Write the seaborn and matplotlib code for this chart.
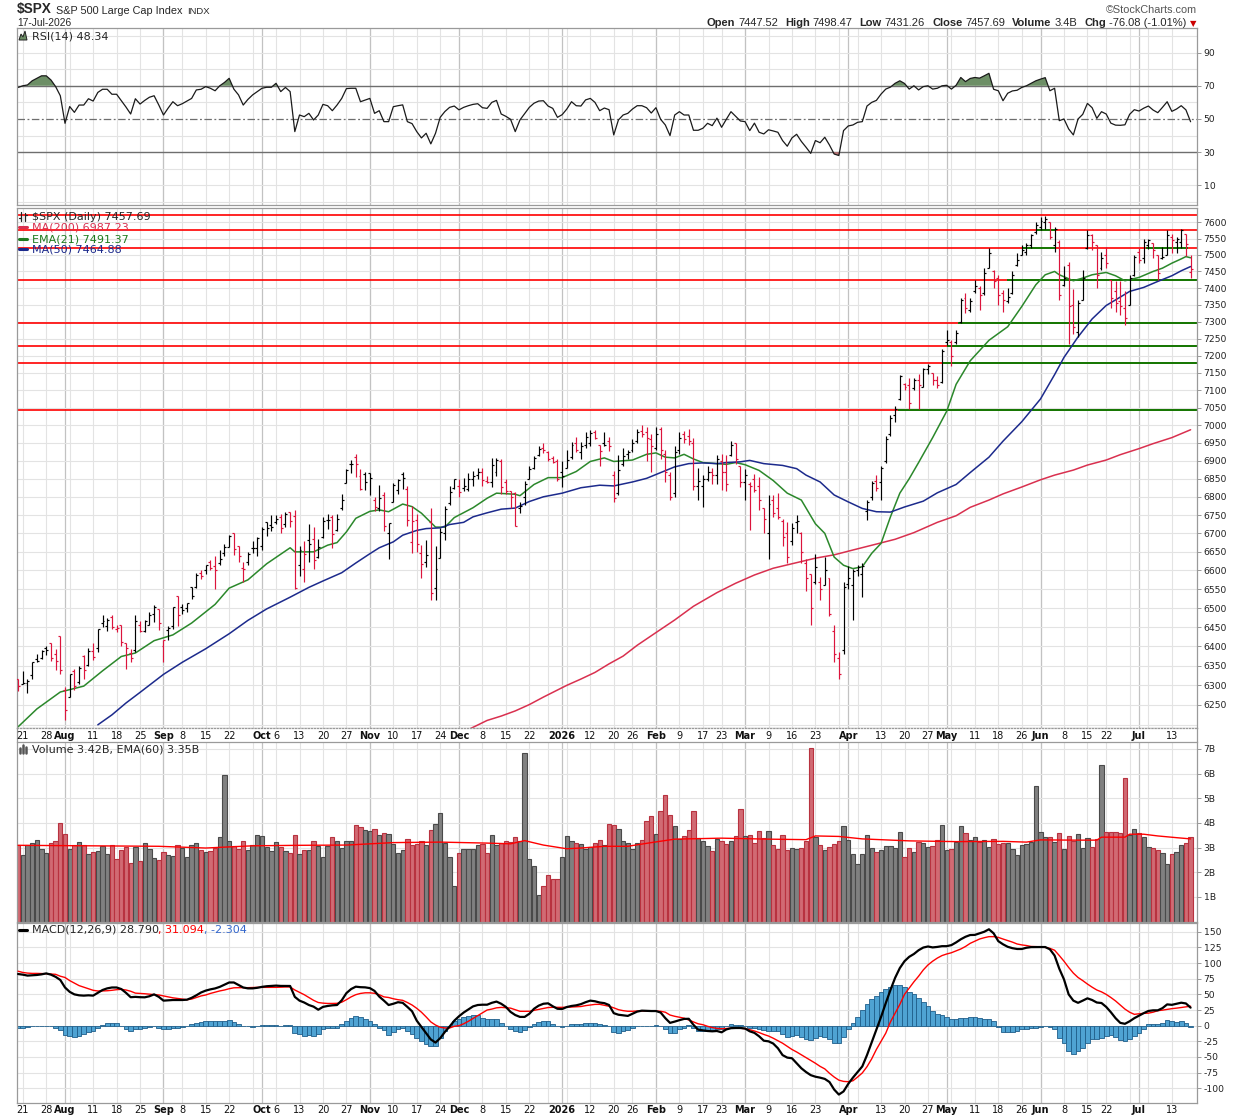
import numpy as np
import pandas as pd
import matplotlib
matplotlib.use("Agg")
import matplotlib.pyplot as plt
import matplotlib.transforms as mtrans
from matplotlib.lines import Line2D
from matplotlib.patches import Polygon
from matplotlib.ticker import FixedLocator, FixedFormatter, NullLocator, NullFormatter
import seaborn as sns

W, H = 1240, 1119

# trading calendar 18-Jul-2025 .. 17-Jul-2026
holidays = pd.to_datetime(["2025-09-01", "2025-11-27", "2025-12-25", "2026-01-01",
                           "2026-01-19", "2026-02-16", "2026-04-03", "2026-05-25",
                           "2026-06-19", "2026-07-03"])
dates = pd.bdate_range("2025-07-18", "2026-07-17")
dates = dates[~dates.isin(holidays)]

# daily bars
opens = [6316, 6304, 6306, 6326, 6368, 6370, 6397, 6409, 6381, 6428,
         6289, 6271, 6337, 6309, 6374, 6353, 6389, 6397, 6460, 6453,
         6478, 6445, 6455, 6409, 6384, 6392, 6457, 6440, 6457, 6485,
         6497, 6401, 6443, 6454, 6532, 6503, 6500, 6555, 6556, 6594,
         6601, 6624, 6611, 6621, 6646, 6663, 6700, 6666, 6606, 6624,
         6661, 6660, 6665, 6731, 6722, 6730, 6745, 6725, 6759, 6746,
         6615, 6604, 6681, 6686, 6637, 6689, 6737, 6745, 6710, 6769,
         6839, 6891, 6910, 6857, 6864, 6866, 6790, 6768, 6804, 6700,
         6785, 6818, 6864, 6822, 6676, 6736, 6647, 6623, 6731, 6553,
         6633, 6700, 6783, 6823, 6830, 6825, 6822, 6850, 6860, 6870,
         6845, 6842, 6870, 6900, 6840, 6815, 6810, 6770, 6800, 6850,
         6880, 6915, 6935, 6925, 6908, 6900, 6870, 6880, 6910, 6950,
         6925, 6945, 6950, 6980, 6945, 6950, 6955, 6860, 6810, 6890,
         6918, 6930, 6955, 6985, 6980, 6960, 6935, 6990, 6920, 6860,
         6810, 6930, 6975, 6970, 6950, 6830, 6830, 6850, 6870, 6860,
         6900, 6870, 6915, 6950, 6885, 6840, 6835, 6850, 6830, 6770,
         6700, 6790, 6770, 6735, 6700, 6680, 6730, 6700, 6620, 6590,
         6570, 6570, 6560, 6580, 6440, 6370, 6390, 6565, 6560, 6600,
         6590, 6760, 6800, 6845, 6840, 6900, 6975, 7030, 7075, 7118,
         7115, 7105, 7130, 7110, 7160, 7150, 7130, 7125, 7240, 7240,
         7240, 7300, 7370, 7335, 7390, 7400, 7385, 7460, 7450, 7430,
         7385, 7360, 7385, 7470, 7500, 7510, 7530, 7570, 7585, 7600,
         7600, 7530, 7540, 7410, 7470, 7350, 7270, 7365, 7520, 7560,
         7530, 7460, 7500, 7425, 7390, 7360, 7340, 7350, 7440, 7510,
         7490, 7530, 7535, 7500, 7490, 7500, 7555, 7540, 7540, 7565,
         7447.52]
highs = [6316, 6336, 6316, 6360, 6381, 6390, 6402, 6410, 6394, 6428,
         6295, 6330, 6343, 6349, 6379, 6395, 6409, 6446, 6481, 6474,
         6482, 6457, 6457, 6410, 6394, 6481, 6466, 6468, 6489, 6508,
         6497, 6416, 6453, 6502, 6533, 6512, 6513, 6556, 6593, 6601,
         6616, 6627, 6639, 6656, 6672, 6695, 6700, 6666, 6624, 6650,
         6679, 6689, 6718, 6731, 6751, 6749, 6752, 6757, 6759, 6764,
         6666, 6679, 6726, 6718, 6686, 6744, 6752, 6749, 6752, 6807,
         6876, 6901, 6920, 6876, 6870, 6866, 6799, 6833, 6812, 6729,
         6838, 6849, 6869, 6829, 6775, 6754, 6668, 6683, 6770, 6665,
         6715, 6776, 6829, 6850, 6850, 6853, 6867, 6872, 6881, 6881,
         6858, 6908, 6908, 6904, 6850, 6817, 6812, 6787, 6844, 6885,
         6913, 6940, 6950, 6927, 6913, 6904, 6899, 6931, 6954, 6968,
         6954, 6982, 6986, 6986, 6945, 6982, 6968, 6872, 6917, 6935,
         6930, 6960, 6988, 7000, 6995, 6975, 6995, 6995, 6930, 6870,
         6940, 6980, 6985, 6990, 6965, 6880, 6860, 6885, 6880, 6915,
         6920, 6915, 6955, 6950, 6885, 6878, 6840, 6862, 6855, 6770,
         6805, 6805, 6810, 6740, 6730, 6727, 6750, 6705, 6630, 6590,
         6645, 6583, 6635, 6580, 6455, 6385, 6570, 6612, 6605, 6615,
         6620, 6791, 6845, 6860, 6885, 6970, 7030, 7055, 7144, 7122,
         7136, 7136, 7146, 7165, 7175, 7150, 7140, 7220, 7275, 7246,
         7275, 7370, 7385, 7370, 7425, 7405, 7460, 7520, 7455, 7440,
         7395, 7400, 7450, 7505, 7530, 7535, 7565, 7600, 7615, 7620,
         7600, 7585, 7545, 7465, 7480, 7398, 7365, 7455, 7575, 7565,
         7530, 7510, 7525, 7425, 7420, 7420, 7390, 7440, 7500, 7522,
         7550, 7550, 7537, 7500, 7525, 7575, 7565, 7555, 7580, 7565,
         7498.47]
lows = [6285, 6303, 6281, 6317, 6360, 6368, 6378, 6362, 6338, 6328,
        6213, 6271, 6289, 6303, 6317, 6350, 6364, 6385, 6450, 6441,
        6446, 6437, 6400, 6343, 6360, 6386, 6438, 6438, 6457, 6465,
        6444, 6360, 6417, 6446, 6453, 6484, 6490, 6524, 6553, 6577,
        6591, 6601, 6551, 6616, 6640, 6662, 6642, 6624, 6570, 6614,
        6646, 6638, 6656, 6693, 6707, 6725, 6700, 6718, 6718, 6550,
        6586, 6569, 6622, 6604, 6634, 6688, 6713, 6660, 6706, 6765,
        6839, 6866, 6854, 6818, 6818, 6804, 6762, 6761, 6707, 6631,
        6785, 6809, 6822, 6719, 6646, 6650, 6580, 6608, 6522, 6521,
        6633, 6681, 6778, 6822, 6800, 6815, 6817, 6830, 6849, 6830,
        6838, 6826, 6858, 6807, 6807, 6769, 6720, 6755, 6778, 6850,
        6878, 6912, 6922, 6899, 6893, 6845, 6826, 6880, 6905, 6925,
        6904, 6936, 6940, 6960, 6885, 6940, 6927, 6787, 6805, 6885,
        6905, 6925, 6950, 6968, 6900, 6870, 6930, 6905, 6840, 6790,
        6800, 6920, 6950, 6945, 6820, 6790, 6773, 6845, 6835, 6835,
        6820, 6815, 6912, 6890, 6827, 6791, 6710, 6812, 6765, 6700,
        6632, 6745, 6740, 6665, 6620, 6668, 6700, 6619, 6545, 6455,
        6565, 6521, 6560, 6480, 6360, 6315, 6380, 6550, 6470, 6585,
        6530, 6736, 6790, 6815, 6790, 6895, 6970, 7010, 7072, 7100,
        7045, 7102, 7045, 7110, 7146, 7116, 7106, 7120, 7230, 7170,
        7235, 7295, 7325, 7330, 7385, 7335, 7380, 7460, 7400, 7350,
        7330, 7355, 7382, 7465, 7500, 7500, 7520, 7565, 7575, 7580,
        7548, 7510, 7365, 7405, 7235, 7265, 7255, 7365, 7518, 7515,
        7400, 7455, 7460, 7340, 7330, 7320, 7290, 7350, 7437, 7477,
        7477, 7517, 7490, 7425, 7487, 7500, 7505, 7505, 7520, 7498,
        7431.26]
closes = [6297, 6306, 6310, 6359, 6363, 6389, 6390, 6371, 6363, 6339,
          6238, 6330, 6299, 6345, 6340, 6389, 6373, 6446, 6467, 6469,
          6450, 6449, 6411, 6396, 6370, 6467, 6439, 6466, 6481, 6502,
          6460, 6416, 6448, 6502, 6482, 6495, 6513, 6532, 6587, 6584,
          6615, 6607, 6600, 6632, 6664, 6694, 6657, 6638, 6605, 6644,
          6661, 6688, 6711, 6715, 6716, 6740, 6715, 6754, 6735, 6553,
          6655, 6644, 6671, 6629, 6664, 6735, 6735.5, 6699, 6738, 6792,
          6875, 6891, 6890.5, 6822, 6840, 6852, 6772, 6796, 6720, 6729,
          6832, 6847, 6851, 6737, 6734, 6672, 6617, 6642, 6539, 6603,
          6705, 6766, 6813, 6849, 6812, 6829, 6850, 6857, 6870, 6846,
          6840, 6887, 6901, 6827, 6816, 6800, 6721, 6775, 6834, 6878,
          6909, 6932, 6930, 6906, 6896, 6850, 6858, 6902, 6945, 6930,
          6940, 6966, 6977, 6963, 6926, 6944, 6940, 6796, 6875, 6913,
          6925, 6950, 6980, 6975, 6965, 6940, 6975, 6930, 6870, 6800,
          6925, 6965, 6960, 6955, 6830, 6845, 6848, 6870, 6860, 6905,
          6870, 6835, 6945, 6905, 6840, 6860, 6830, 6820, 6790, 6740,
          6780, 6755, 6745, 6690, 6635, 6715, 6735, 6650, 6580, 6500,
          6610, 6550, 6600, 6485, 6380, 6330, 6555, 6580, 6598, 6610,
          6612, 6785, 6838, 6825, 6880, 6960, 7020, 7045, 7140, 7108,
          7062, 7130, 7115, 7160, 7170, 7130, 7115, 7215, 7245, 7200,
          7268, 7365, 7340, 7362, 7405, 7380, 7445, 7505, 7420, 7380,
          7365, 7372, 7440, 7485, 7515, 7530, 7560, 7590, 7605, 7610,
          7555, 7578, 7380, 7430, 7345, 7285, 7355, 7430, 7560, 7540,
          7440, 7490, 7475, 7370, 7355, 7345, 7310, 7430, 7495, 7485,
          7540, 7545, 7515, 7445, 7495, 7560, 7545, 7550, 7575, 7533.77,
          7457.69]
prev_close_start = 6297.4

volumes = [3.09, 2.68, 3.12, 3.2, 3.32, 2.95, 2.79, 3.2, 3.28, 4.01,
           3.56, 2.95, 3.12, 3.24, 3.12, 2.75, 2.82, 2.87, 3.05, 2.75,
           3.12, 2.55, 2.89, 3.01, 2.38, 3.01, 2.47, 3.2, 2.93, 2.59,
           2.51, 2.83, 2.71, 2.67, 3.12, 2.98, 2.63, 3.12, 3.2, 2.89,
           2.82, 2.85, 2.98, 3.43, 5.93, 3.28, 3.06, 2.95, 3.28, 2.89,
           3.12, 3.5, 3.46, 3.01, 2.87, 3.22, 3.01, 2.87, 2.76, 3.5,
           2.72, 2.91, 2.91, 3.28, 3.05, 2.63, 3.05, 3.41, 3.28, 3.0,
           3.25, 3.28, 3.93, 3.83, 3.73, 3.66, 3.77, 3.52, 3.6, 3.54,
           3.14, 2.79, 2.91, 3.36, 3.09, 3.14, 3.25, 3.09, 3.7, 3.97,
           4.42, 3.2, 2.63, 1.44, 2.79, 2.95, 2.95, 2.95, 3.12, 3.14,
           2.76, 3.5, 3.12, 3.2, 3.28, 3.22, 3.41, 3.28, 6.82, 2.55,
           2.24, 1.06, 1.46, 1.9, 1.71, 1.71, 2.63, 3.46, 3.28, 3.2,
           3.16, 2.93, 3.01, 3.2, 3.32, 3.12, 3.97, 3.9, 3.77, 3.28,
           3.2, 2.95, 3.2, 3.32, 4.09, 4.27, 3.56, 4.5, 5.12, 4.31,
           3.86, 3.35, 3.46, 3.73, 4.5, 3.39, 3.28, 3.05, 2.87, 3.33,
           3.25, 3.16, 3.28, 3.46, 4.58, 3.46, 3.5, 3.2, 3.69, 3.39,
           3.69, 3.12, 2.95, 3.5, 2.91, 3.0, 2.93, 3.0, 3.25, 7.02,
           3.43, 3.09, 2.91, 3.03, 3.16, 3.27, 3.88, 3.3, 2.74, 2.34,
           2.74, 3.51, 2.97, 2.8, 2.89, 3.07, 3.07, 2.97, 3.62, 2.62,
           2.97, 2.81, 3.24, 3.18, 3.01, 3.05, 3.3, 3.92, 2.89, 2.93,
           3.22, 3.88, 3.58, 3.3, 3.42, 3.24, 3.3, 3.01, 3.34, 3.16,
           3.18, 3.18, 2.93, 2.7, 3.1, 3.16, 3.22, 5.5, 3.65, 3.43,
           3.43, 3.22, 3.58, 2.93, 3.47, 3.27, 3.55, 2.97, 3.38, 3.01,
           3.34, 6.35, 3.65, 3.62, 3.62, 3.58, 5.81, 3.51, 3.74, 3.58,
           3.42, 3.01, 2.97, 2.89, 2.77, 2.32, 2.74, 2.81, 3.1, 3.18,
           3.42]

rsi = [69, 70, 70.5, 73, 74.5, 76, 76, 73.5, 69.5, 64,
       47.4, 57.5, 54, 58.4, 58.4, 62.2, 60.8, 66, 67.9, 67.9,
       64.9, 64.9, 61, 57.2, 53, 62.2, 59, 61.2, 63.1, 64,
       58.4, 52.4, 56.6, 60.4, 58, 59.2, 60.8, 62.4, 67.5, 67.9,
       69.5, 68.5, 67, 70, 72, 74.5, 68, 64.5, 58.4, 61.8,
       64.5, 66.5, 68.5, 69.1, 69.1, 71.5, 66.5, 69, 66.5, 42.4,
       52.4, 51.4, 53.4, 49.4, 52.4, 58.8, 58, 55, 58.4, 62.4,
       68.3, 68.5, 68.5, 60.4, 61.4, 62.4, 53.4, 55, 48.4, 48.4,
       57.4, 58, 58.5, 48.4, 47.2, 42.4, 38.6, 41.4, 35, 41.4,
       51, 54.5, 57, 57.8, 55.5, 57, 58, 58.8, 59.2, 56.8,
       56.4, 60, 61.2, 53, 51.6, 49.8, 42.4, 49.4, 53.2, 57,
       59.5, 60.8, 61, 57.8, 56.4, 51, 52.6, 56, 60.4, 58,
       57.8, 61.5, 62.4, 60, 55, 56.6, 55.6, 40.4, 49.4, 52.4,
       53.4, 56, 58, 58, 56.8, 53.6, 56.8, 49.8, 46.4, 40,
       52.4, 54.4, 52.4, 52.4, 43.2, 43.2, 44.4, 47.4, 46, 50.5,
       45, 49.8, 54.4, 51.6, 48.8, 48.4, 43, 47.5, 42, 41,
       43.5, 42.8, 42, 37, 33.6, 38.6, 40.8, 36.5, 33, 29.3,
       37, 35.7, 39, 34.3, 28.9, 28, 43, 45.8, 46.4, 48,
       48.4, 57.8, 60, 61.2, 65, 68, 69.2, 71.5, 73, 71.4,
       68, 70, 67.5, 69.5, 70, 68, 68.5, 70, 70.3, 68,
       70.3, 75, 72.5, 74.4, 75, 74.6, 76, 77.5, 67.9, 67,
       61, 65.5, 66.9, 67.3, 69, 70, 71.5, 73, 74, 74.9,
       67, 68.5, 49, 50, 44, 40.4, 50, 52.8, 59.4, 56.8,
       50.4, 54.4, 53, 47.5, 46.3, 46.2, 46.5, 52.8, 55.6, 54.8,
       56.5, 57.8, 55.4, 53.8, 57, 60.4, 54.6, 56, 58, 55.5,
       48.34]

macd = [82.5, 81.5, 80, 80.5, 81, 82, 83.5, 81.5, 78, 73,
        61, 54, 50, 48.5, 48, 48.5, 48, 52.5, 57, 59.6,
        61, 61, 58.5, 52.5, 45.5, 46, 45.5, 45.3, 47, 50,
        46, 40, 40.5, 41, 41, 41, 41.5, 44.5, 48.5, 53,
        56, 58, 59.5, 62, 65.5, 69, 69, 65, 61, 59.6,
        59.6, 60.5, 62, 63, 63.5, 64, 63.5, 63.4, 63.4, 46,
        40, 37, 33, 30.4, 25.5, 30, 31.5, 32.5, 33, 40.5,
        52, 58.5, 62.3, 61.5, 61.2, 60, 55.5, 46.5, 40, 33,
        35, 37.5, 36.5, 30, 23, 8, -2, -12, -22, -27,
        -20, -10, -1.5, 8, 15, 21, 26, 30.8, 33, 33.5,
        33.5, 36.5, 38.5, 35, 30, 22, 17, 14, 14, 19,
        27, 32, 35, 35.7, 31, 27, 26.6, 29.8, 31.5, 32.5,
        34.4, 37.5, 40, 39, 37, 36, 33, 20, 17.5, 16.5,
        15.6, 19, 22.5, 24, 23.7, 23.4, 23.4, 21, 12, 4.5,
        6.5, 8.8, 10.8, 11, 1.3, -6.4, -7.5, -8.5, -9, -8.5,
        -10.6, -6, -4, -3.7, -3.7, -4.5, -9, -11.5, -17, -24,
        -25, -28.5, -36, -47, -51, -52, -60, -68, -74, -79,
        -81.5, -83, -85, -90, -102, -110, -105, -93, -83, -74,
        -65, -47, -26.6, -6.5, 14, 36, 57, 76.5, 92, 103,
        110, 114.5, 120.5, 124.8, 126.5, 125, 125.8, 127, 127, 128.7,
        133, 138, 142, 144.8, 145, 147.5, 150, 154, 147.5, 135,
        130, 126, 123.8, 122.5, 122.5, 124.5, 125.5, 125.6, 125.6, 125.6,
        122, 112, 91, 74, 50, 40, 36.5, 40, 43.7, 41,
        37, 36.2, 30, 21.5, 12, 4.5, 3, 7, 12, 16,
        20, 23.5, 24.5, 24.5, 28, 34, 33.3, 35, 36.7, 35.5,
        28.79]
signal = [87, 85, 84, 83.5, 83.5, 83.3, 83, 82.5, 82, 79,
          77, 72, 68, 64, 61.5, 59, 56.5, 55.4, 55.5, 55.8,
          56.5, 57.5, 58, 57, 55, 52, 51.5, 51, 50.3, 49.5,
          49, 47.5, 46, 44.5, 43.5, 42.5, 41.5, 42.5, 45, 47.5,
          49, 51.5, 53.5, 55.5, 57, 59, 60.5, 60.7, 60.7, 60.7,
          61, 61.2, 61.2, 61.2, 61.2, 61.2, 61.5, 61.8, 61.8, 57,
          53.2, 49.5, 45, 40.5, 37, 36, 35.5, 35.5, 35.7, 37.5,
          41.5, 46, 49.5, 51.5, 52.5, 52.5, 51.7, 49.5, 46, 45,
          43, 41.5, 40.5, 37, 33, 27.7, 21.5, 14, 6, 1,
          -2.5, -3.7, -3.7, -1, 0, 3, 7, 11.5, 16, 20.5,
          25, 26.5, 28.5, 29.2, 28.7, 28, 25.5, 23, 22.9, 23,
          24.5, 26, 27.5, 29, 29.3, 29.3, 29.3, 29.5, 29.8, 30.2,
          30.6, 32, 33, 34, 34.1, 32.5, 31, 28.5, 25.6, 24,
          23, 23, 23.4, 23.5, 23.5, 23.4, 23.4, 23, 21.5, 17,
          15, 13.5, 12, 9, 6, 3, 1.6, -1, -3, -4.3,
          -4.8, -4.5, -4, -3.8, -4, -5, -6.4, -8.5, -11, -14,
          -16.5, -20, -24, -28, -33, -38, -42, -46.5, -51, -55.5,
          -60, -65, -69, -76, -82, -87, -89, -89.5, -88, -82,
          -75.5, -65.5, -53, -38, -25, -12, 6, 20, 34, 50,
          60, 70, 79, 89, 97, 103, 108, 112, 114.5, 116.5,
          119.5, 122.5, 126.5, 131.5, 135, 138.4, 140.5, 142.2, 142.2, 141,
          138.4, 136, 133.5, 130.5, 129, 128, 126.5, 126.2, 126, 125,
          123.5, 120.5, 112, 103, 93, 84, 77, 72, 66.5, 61.5,
          57, 54, 50, 45, 39.5, 33, 26.5, 21.5, 18.1, 19,
          19.7, 20, 21.5, 24, 24.8, 26, 27.2, 28, 29, 30,
          31.094]
hist = [-3, -3, -2, -1, -1, 0, 0, -1, -3, -7,
        -15, -17, -18, -16, -14, -10, -8, -3, 1, 4,
        4, 3.5, -1, -5, -8, -6, -5, -4, -2, -1,
        -3, -6, -5, -4, -3, -2, -1, 2, 4, 6,
        8, 8, 7, 7.5, 8, 9, 6, 3, -1, -1,
        -1.5, -0.5, 0.5, 1, 1, 1, 0, 1, 1, -11,
        -14, -16, -15.5, -16, -14, -6, -4, -3.5, -3, 2,
        8, 13, 16, 14, 10, 8, 2, -3, -7, -15,
        -10, -5, -3, -8, -14, -20, -24, -30, -33, -32,
        -20, -8, 0, 8, 11, 14, 16, 17, 17, 13,
        11, 11, 10, 5, -1, -5, -9, -10, -7, -2,
        3, 6, 8, 7, 3, -1, -2, 0, 2, 2,
        3, 4, 5, 4.5, 2, 1, 0, -10, -11, -9,
        -7, -4, -1, 0, 0, 0, 1, -1, -5, -12,
        -11, -5, -3, 1, -4, -8, -9, -8, -7, -5,
        -6, 0, 2, 1.5, 1, -1, -4, -4, -6, -7,
        -8, -9, -9, -13, -18, -16, -15, -18, -21, -23,
        -20, -16, -18, -22, -27, -28, -18, -5, 4, 14,
        25, 35, 42, 47, 53, 59, 62, 65, 65, 62,
        54, 50, 44, 38, 32, 24, 18, 16.5, 14, 10,
        10, 12, 12, 13.5, 14, 12, 11, 11, 8, -2,
        -9.5, -9.5, -9.5, -8, -6, -5, -4, -3, -2, -1,
        -2, -5, -20, -27, -40, -45, -40, -35, -27, -21,
        -21, -20, -17, -15, -18, -23, -25, -22, -17, -11,
        -5, 2, 3, 3, 4, 9, 7, 6.5, 7, 4,
        -2.304]

# overlay lines, sampled off the chart (bar index, value)
ma200_j = [96, 100, 103, 106, 109, 112, 115, 117, 120, 123, 126, 129, 132, 136, 140,
           144, 149, 153, 157, 161, 166, 170, 174, 178, 183, 187, 191, 196, 200, 203,
           207, 210, 214, 218, 221, 225, 228, 232, 235, 239, 242, 246, 250]
ma200_v = [6188, 6211, 6222, 6235, 6251, 6270, 6288, 6300, 6316, 6333, 6355, 6375, 6403, 6436, 6469,
           6505, 6541, 6566, 6588, 6606, 6621, 6633, 6642, 6655, 6671, 6684, 6702, 6730, 6748, 6771,
           6791, 6808, 6827, 6847, 6860, 6874, 6888, 6902, 6917, 6934, 6948, 6965, 6987.23]
ema21_j = [0, 4, 9, 14, 18, 22, 25, 29, 33, 37, 42, 45, 49, 53, 58, 59, 63, 66, 68, 70,
           72, 75, 77, 79, 82, 84, 86, 89, 91, 93, 97, 100, 102, 106, 107, 110, 113, 116, 119, 122,
           125, 127, 129, 131, 134, 136, 138, 140, 142, 144, 146, 149, 151, 153, 155, 158, 161, 164, 167, 170,
           172, 174, 176, 178, 180, 182, 184, 186, 188, 190, 192, 195, 198, 200, 203, 207, 209, 211, 214, 217,
           219, 221, 222, 225, 227, 229, 232, 234, 236, 239, 242, 244, 246, 248, 249, 250]
ema21_v = [6195, 6240, 6283, 6298, 6337, 6374, 6383, 6415, 6430, 6461, 6510, 6553, 6575, 6618, 6661, 6650, 6650, 6668, 6675, 6704,
           6741, 6760, 6764, 6759, 6780, 6773, 6755, 6717, 6717, 6743, 6770, 6796, 6810, 6807, 6803, 6834, 6853, 6853, 6870, 6898,
           6908, 6898, 6900, 6902, 6918, 6922, 6910, 6908, 6918, 6905, 6895, 6892, 6890, 6895, 6889, 6873, 6845, 6810, 6791, 6726,
           6700, 6636, 6614, 6605, 6610, 6646, 6673, 6745, 6810, 6850, 6895, 6965, 7040, 7117, 7185, 7245, 7265, 7285, 7345, 7410,
           7440, 7450, 7440, 7422, 7430, 7440, 7447, 7437, 7422, 7432, 7450, 7460, 7475, 7488, 7495, 7491.37]
ma50_j = [17, 20, 23, 26, 31, 35, 40, 45, 49, 53, 58, 62, 65, 69, 72, 75, 77, 80, 82, 85,
          87, 90, 92, 95, 97, 100, 103, 106, 109, 112, 116, 120, 124, 127, 131, 134, 137, 140, 143, 146,
          149, 151, 154, 156, 159, 163, 166, 168, 171, 174, 177, 180, 183, 186, 189, 193, 196, 200, 203, 207,
          210, 214, 218, 221, 223, 226, 229, 232, 235, 237, 240, 243, 246, 248, 250]
ma50_v = [6200, 6225, 6255, 6282, 6328, 6359, 6394, 6433, 6468, 6498, 6529, 6555, 6572, 6594, 6620, 6645, 6661, 6677, 6695, 6708,
          6713, 6715, 6724, 6730, 6745, 6756, 6766, 6769, 6787, 6800, 6810, 6825, 6832, 6830, 6841, 6851, 6867, 6883, 6892, 6894,
          6892, 6895, 6897, 6901, 6892, 6887, 6878, 6860, 6841, 6805, 6786, 6768, 6759, 6758, 6772, 6788, 6811, 6834, 6867, 6910,
          6955, 7010, 7075, 7145, 7195, 7255, 7308, 7348, 7373, 7390, 7402, 7420, 7437, 7452, 7464.88]
vol_ema_j = [0, 30, 40, 50, 60, 70, 80, 90, 100, 105, 108, 112, 117, 120, 125, 130, 135, 140, 150, 160,
             168, 170, 175, 180, 190, 200, 210, 215, 218, 225, 230, 231, 236, 237, 240, 243, 247, 250]
vol_ema_v = [3.09, 3.05, 2.98, 3.07, 3.09, 3.1, 3.2, 3.22, 3.18, 3.15, 3.28, 3.1, 2.95, 2.98, 3.05, 3.05, 3.2, 3.34, 3.38, 3.34,
             3.32, 3.47, 3.45, 3.35, 3.27, 3.24, 3.25, 3.22, 3.31, 3.3, 3.3, 3.42, 3.42, 3.54, 3.54, 3.47, 3.4, 3.35]

# horizontal levels drawn on the price panel
red_levels = [7622, 7576, 7522, 7424, 7295, 7228, 7178, 7043]
green_segments = [(7043, 187.6, 251.3), (7178, 197.0, 251.3), (7228, 198.0, 251.3),
                  (7295, 200.4, 251.3), (7424, 210.8, 251.3), (7522, 214.0, 221.4),
                  (7522, 240.5, 249.5), (7576, 217.2, 221.4)]

n = len(dates)
for arr in (opens, highs, lows, closes, volumes, rsi, macd, signal, hist):
    assert len(arr) == n
x = np.arange(n)
c = np.array(closes)
prev = np.concatenate([[prev_close_start], c[:-1]])
down = c < prev

UP, DOWN = "#000000", "#DC143C"
GRID, GRID_M = "#e3e3e3", "#c2c2c2"
SPINE = "#9a9a9a"
XL = (-0.3, 251.3)

sns.set_style("white")
plt.rcParams["font.family"] = ["DejaVu Sans"]
fig = plt.figure(figsize=(W / 100, H / 100), dpi=100)
fig.patch.set_facecolor("white")


def fx(px):
    return px / W


def fy(py):
    return 1 - py / H


def box(top, bottom):
    return [fx(16.7), fy(bottom), 1180 / W, (bottom - top) / H]


week_idx = [j for j in range(1, n) if dates[j].isocalendar()[1] != dates[j - 1].isocalendar()[1]]
month_idx = [j for j in range(1, n) if dates[j].month != dates[j - 1].month]


def vgrid(ax):
    for j in week_idx:
        ax.axvline(j, color=GRID, lw=0.8, zorder=0)
    for j in month_idx:
        ax.axvline(j, color=GRID_M, lw=0.9, zorder=0)


def style(ax, ticks, labels):
    for s in ax.spines.values():
        s.set_color(SPINE)
        s.set_linewidth(0.9)
    ax.set_xticks([])
    ax.yaxis.tick_right()
    ax.yaxis.set_major_locator(FixedLocator(ticks))
    ax.yaxis.set_major_formatter(FixedFormatter(labels))
    ax.yaxis.set_minor_locator(NullLocator())
    ax.yaxis.set_minor_formatter(NullFormatter())
    ax.tick_params(axis="y", which="major", direction="out", length=3, width=0.7,
                   color="#999999", labelcolor="#222222", labelsize=6.7, pad=2)
    ax.set_xlim(*XL)


def put_runs(xp, yp, parts, ha="left"):
    rend = fig.canvas.get_renderer()
    made = []
    for s, kw, gap in parts:
        t = fig.text(0, fy(yp), s, va="baseline", ha="left", parse_math=False, **kw)
        made.append((t, t.get_window_extent(rend).width, gap))
    total = sum(w + g for _, w, g in made) - made[-1][2]
    cx = xp - total if ha == "right" else xp
    for t, w, g in made:
        t.set_x(fx(cx))
        cx += w + g


# ---------------- RSI ----------------
ax_r = fig.add_axes(box(28, 205))
vgrid(ax_r)
for v in range(0, 101, 10):
    if v not in (30, 50, 70):
        ax_r.axhline(v, color=GRID, lw=0.8, zorder=0)
ax_r.axhline(70, color="#6e6e6e", lw=1.0, zorder=1)
ax_r.axhline(30, color="#6e6e6e", lw=1.0, zorder=1)
ax_r.axhline(50, color="#6e6e6e", lw=0.9, dashes=(6, 2, 1.5, 2), zorder=1)
r = np.array(rsi)
ax_r.fill_between(x, r, 70, where=r >= 70, interpolate=True, color="#6d8f66", lw=0, zorder=1.5)
ax_r.fill_between(x, r, 30, where=r <= 30, interpolate=True, color="#b87474", lw=0, zorder=1.5)
sns.lineplot(x=x, y=r, ax=ax_r, color="#1a1a1a", lw=0.9, zorder=2, legend=False)
ax_r.set_ylim(-1.8, 104.8)
style(ax_r, [10, 30, 50, 70, 90], ["10", "30", "50", "70", "90"])
ax_r.set_ylabel("")

# ---------------- price ----------------
ax_p = fig.add_axes(box(208, 728))
ax_p.set_yscale("log")
vgrid(ax_p)
for v in range(6200, 7651, 50):
    ax_p.axhline(v, color=GRID, lw=0.8, zorder=0)
for lv in red_levels:
    ax_p.axhline(lv, color="#ff0000", lw=1.2, zorder=1.2)
for lv, j0, j1 in green_segments:
    ax_p.hlines(lv, j0, j1, color="#008000", lw=1.3, zorder=1.3)
sns.lineplot(x=ma200_j, y=ma200_v, ax=ax_p, color="#d9304f", lw=1.1, zorder=2, legend=False)
sns.lineplot(x=ema21_j, y=ema21_v, ax=ax_p, color="#2b882b", lw=1.1, zorder=2, legend=False)
sns.lineplot(x=ma50_j, y=ma50_v, ax=ax_p, color="#1c2a8c", lw=1.1, zorder=2, legend=False)
cols = np.where(down, DOWN, UP)
ax_p.vlines(x, lows, highs, colors=cols, lw=0.85, zorder=3)
ax_p.hlines(opens, x - 0.42, x, colors=cols, lw=0.85, zorder=3)
ax_p.hlines(closes, x, x + 0.42, colors=cols, lw=0.85, zorder=3)
ax_p.set_ylim(6192, 7644)
pt = list(range(6250, 7601, 50))
style(ax_p, pt, [str(v) for v in pt])
ax_p.set_ylabel("")

# date strip under the price panel
ax_s = fig.add_axes(box(728, 741))
ax_s.set_xlim(*XL)
ax_s.set_ylim(0, 1)
ax_s.set_xticks([])
ax_s.set_yticks([])
for k, s in ax_s.spines.items():
    s.set_color(SPINE)
    s.set_linewidth(0.9)
ax_s.spines["bottom"].set_visible(False)
ax_s.spines["top"].set_linestyle((0, (1, 1.5)))

# ---------------- volume ----------------
ax_v = fig.add_axes(box(742, 921.5))
vgrid(ax_v)
for v in range(1, 8):
    ax_v.axhline(v, color=GRID, lw=0.8, zorder=0)
vfill = np.where(down, "#d16a73", "#808080")
vedge = np.where(down, "#b8323f", "#4a4a4a")
ax_v.bar(x, volumes, width=0.92, color=vfill, edgecolor=vedge, linewidth=0.8, zorder=2)
sns.lineplot(x=vol_ema_j, y=vol_ema_v, ax=ax_v, color="#ff0000", lw=1.0, zorder=3, legend=False)
ax_v.set_ylim(0, 7.28)
style(ax_v, list(range(1, 8)), [f"{v}B" for v in range(1, 8)])
ax_v.set_ylabel("")

# ---------------- MACD ----------------
ax_m = fig.add_axes(box(923, 1103))
vgrid(ax_m)
for v in range(-125, 176, 25):
    ax_m.axhline(v, color=GRID, lw=0.8, zorder=0)
ax_m.bar(x, hist, width=1.0, color="#4fa3d3", edgecolor="#1f5e8a", linewidth=0.6, zorder=2)
sns.lineplot(x=x, y=signal, ax=ax_m, color="#ff0000", lw=1.0, zorder=3, legend=False)
sns.lineplot(x=x, y=macd, ax=ax_m, color="#000000", lw=1.6, zorder=4, legend=False)
ax_m.set_ylim(-123.5, 164)
mt = list(range(-100, 151, 25))
style(ax_m, mt, [str(v) for v in mt])
ax_m.set_ylabel("")

# ---------------- date labels ----------------
labels = []
for j in month_idx:
    labels.append((j, "2026" if dates[j].month == 1 else dates[j].strftime("%b"), True))
for j in week_idx:
    if j in month_idx:
        continue
    near = [m for m in month_idx
            if abs(m - j) <= 2 or (dates[m].month == 1 and abs(m - j) <= 3)]
    if near:
        continue
    labels.append((j, str(dates[j].day), False))

tr_s = mtrans.blended_transform_factory(ax_s.transData, ax_s.transAxes)
tr_b = mtrans.blended_transform_factory(ax_m.transData, fig.transFigure)
for j, lab, bold in labels:
    kw = dict(ha="center", va="center", fontsize=7, color="#111111",
              fontweight="bold" if bold else "normal")
    ax_s.text(j, 0.42, lab, transform=tr_s, **kw)
    ax_m.text(j, fy(1110), lab, transform=tr_b, clip_on=False, **kw)

# ---------------- header ----------------
HF = "Liberation Sans"
put_runs(17, 13.5, [("$SPX", dict(family=HF, fontsize=9.8, fontweight="bold"), 4),
                    ("S&P 500 Large Cap Index", dict(family=HF, fontsize=7.8), 5),
                    ("INDX", dict(family=HF, fontsize=6.8), 0)])
fig.text(fx(17), fy(25.5), dates[-1].strftime("%d-%b-%Y"), family=HF, fontsize=7.4,
         va="baseline", ha="left")
fig.text(fx(1197), fy(13), "\u00a9StockCharts.com", family=HF, fontsize=7.8,
         color="#555555", va="baseline", ha="right")

chg = closes[-1] - closes[-2]
pct = chg / closes[-2] * 100
head = [("Open", f"{opens[-1]:.2f}"), ("High", f"{highs[-1]:.2f}"), ("Low", f"{lows[-1]:.2f}"),
        ("Close", f"{closes[-1]:.2f}"), ("Volume", f"{volumes[-1]:.1f}B"),
        ("Chg", f"{chg:.2f} ({pct:.2f}%)")]
parts = []
for lab, val in head:
    parts.append((lab, dict(family=HF, fontsize=8, fontweight="bold"), 3))
    parts.append((val, dict(family=HF, fontsize=8), 7))
parts[-1] = (parts[-1][0], parts[-1][1], 3)
parts.append(("\u25bc", dict(family="DejaVu Sans", fontsize=6, color="#cc0000"), 0))
put_runs(1196, 26.5, parts, ha="right")

# ---------------- legends ----------------
LF = dict(fontsize=8)
fig.add_artist(Polygon([[fx(19), fy(40)], [fx(21), fy(34)], [fx(23), fy(37)],
                        [fx(25), fy(31)], [fx(27), fy(40)]], closed=True,
                       facecolor="#6d8f66", edgecolor="#222222", lw=0.7))
fig.text(fx(31.5), fy(39.3), f"RSI(14) {rsi[-1]:.2f}", va="baseline", **LF)

for xa, ya, yb in ((21, 212, 221), (25, 213, 221)):
    fig.add_artist(Line2D([fx(xa), fx(xa)], [fy(ya), fy(yb)], color="#222222", lw=0.9))
fig.add_artist(Line2D([fx(19.5), fx(21)], [fy(218), fy(218)], color="#222222", lw=0.9))
fig.add_artist(Line2D([fx(25), fx(26.5)], [fy(215), fy(215)], color="#222222", lw=0.9))
fig.text(fx(31.5), fy(220), f"$SPX (Daily) {closes[-1]:.2f}", va="baseline",
         parse_math=False, **LF)
for yy, lab, colr in ((230.7, f"MA(200) {ma200_v[-1]:.2f}", "#d9304f"),
                      (242, f"EMA(21) {ema21_v[-1]:.2f}", "#1e7b1e"),
                      (252.7, f"MA(50) {ma50_v[-1]:.2f}", "#1c2a8c")):
    fig.add_artist(Line2D([fx(19), fx(27)], [fy(yy - 3.5), fy(yy - 3.5)], color=colr, lw=2.2))
    fig.text(fx(31.5), fy(yy), lab, va="baseline", color=colr, **LF)

for xa, hh in ((20, 5), (23, 8), (26, 6)):
    fig.add_artist(Line2D([fx(xa), fx(xa)], [fy(752.5), fy(752.5 - hh)], color="#555555", lw=1.8))
fig.text(fx(31.5), fy(752.3), f"Volume {volumes[-1]:.2f}B, EMA(60) {vol_ema_v[-1]:.2f}B",
         va="baseline", **LF)

fig.add_artist(Line2D([fx(19), fx(27)], [fy(929.5), fy(929.5)], color="#000000", lw=2.2))
put_runs(31.5, 933, [(f"MACD(12,26,9) {macd[-1]:.3f}", dict(fontsize=8), 0),
                     (f", {signal[-1]:.3f}", dict(fontsize=8, color="#ff0000"), 0),
                     (f", {hist[-1]:.3f}", dict(fontsize=8, color="#3366cc"), 0)])

fig.savefig("out.png", dpi=100, facecolor="white")
